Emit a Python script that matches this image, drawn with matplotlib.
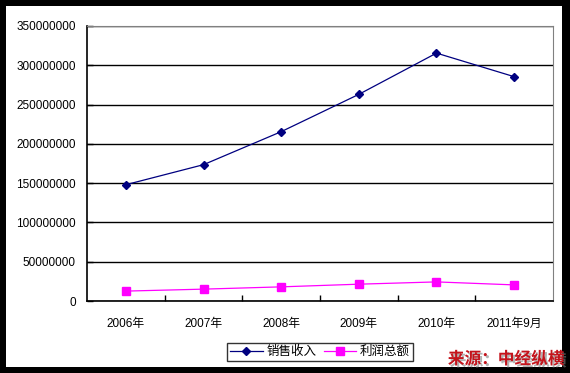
import matplotlib
matplotlib.use("Agg")
import matplotlib.pyplot as plt
import matplotlib.patheffects as pe
from matplotlib.patches import Rectangle

plt.rcParams['font.family'] = ['Liberation Sans', 'Noto Sans CJK SC', 'DejaVu Sans']

# === Données ===
annees = ["2006年", "2007年", "2008年", "2009年", "2010年", "2011年9月"]
ventes = [148000000, 173500000, 215500000, 263000000, 315500000, 285500000]
profits = [12600000, 15100000, 18000000, 21400000, 24300000, 20500000]
y_ticks = [0, 50000000, 100000000, 150000000, 200000000, 250000000, 300000000, 350000000]

W, H = 570, 373
fig = plt.figure(figsize=(W / 100, H / 100), dpi=100)
fig.patch.set_facecolor("black")
# fond blanc à l'intérieur du cadre noir
fig.patches.append(Rectangle((6 / W, 6 / H), (562 - 6) / W, (367 - 6) / H,
                             transform=fig.transFigure, facecolor="white",
                             edgecolor="none", zorder=-10))

ax = fig.add_axes([87 / W, (H - 301) / H, (553 - 87) / W, (301 - 26) / H])
ax.set_facecolor("white")

x = list(range(len(annees)))
ax.plot(x, ventes, color="#000080", lw=0.9, marker="D", ms=4.5, label="销售收入")
ax.plot(x, profits, color="#ff00ff", lw=0.9, marker="s", ms=5.5, label="利润总额")

ax.set_xlim(-0.5, len(annees) - 0.5)
ax.set_ylim(0, 350000000)
ax.set_yticks(y_ticks)
ax.set_yticklabels([str(v) for v in y_ticks], fontsize=8.5)
ax.set_xticks([i + 0.5 for i in x[:-1]], minor=False)
ax.set_xticklabels([])
ax.set_xticks(x, minor=True)
ax.set_xticklabels(annees, minor=True, fontsize=8.5)
ax.tick_params(axis="x", which="major", direction="in", length=4, width=1, color="black")
ax.tick_params(axis="x", which="minor", length=0, pad=12)
ax.tick_params(axis="y", direction="in", length=4, width=1, pad=8)

ax.grid(True, axis="y", color="black", lw=1)
ax.set_axisbelow(True)
for s in ["top", "right"]:
    ax.spines[s].set_color("#808080")
for s in ["left", "bottom"]:
    ax.spines[s].set_color("black")
    ax.spines[s].set_linewidth(1.2)

leg = fig.legend(loc="center", bbox_to_anchor=(320 / W, (H - 352) / H), ncol=2,
                 fontsize=9, frameon=True, fancybox=False, edgecolor="black",
                 borderpad=0.25, handlelength=2.6, columnspacing=0.6,
                 handletextpad=0.3)
leg.get_frame().set_linewidth(1)

fig.text(506 / W, (H - 359) / H, "来源：中经纵横", color="#c4141c", fontsize=12,
         fontweight="bold", ha="center", va="center",
         family=["Noto Sans CJK SC", "DejaVu Sans"],
         path_effects=[pe.withSimplePatchShadow(offset=(1.5, -1.5), shadow_rgbFace="gray", alpha=0.6)])

fig.savefig("out.png", dpi=100, facecolor=fig.get_facecolor())
